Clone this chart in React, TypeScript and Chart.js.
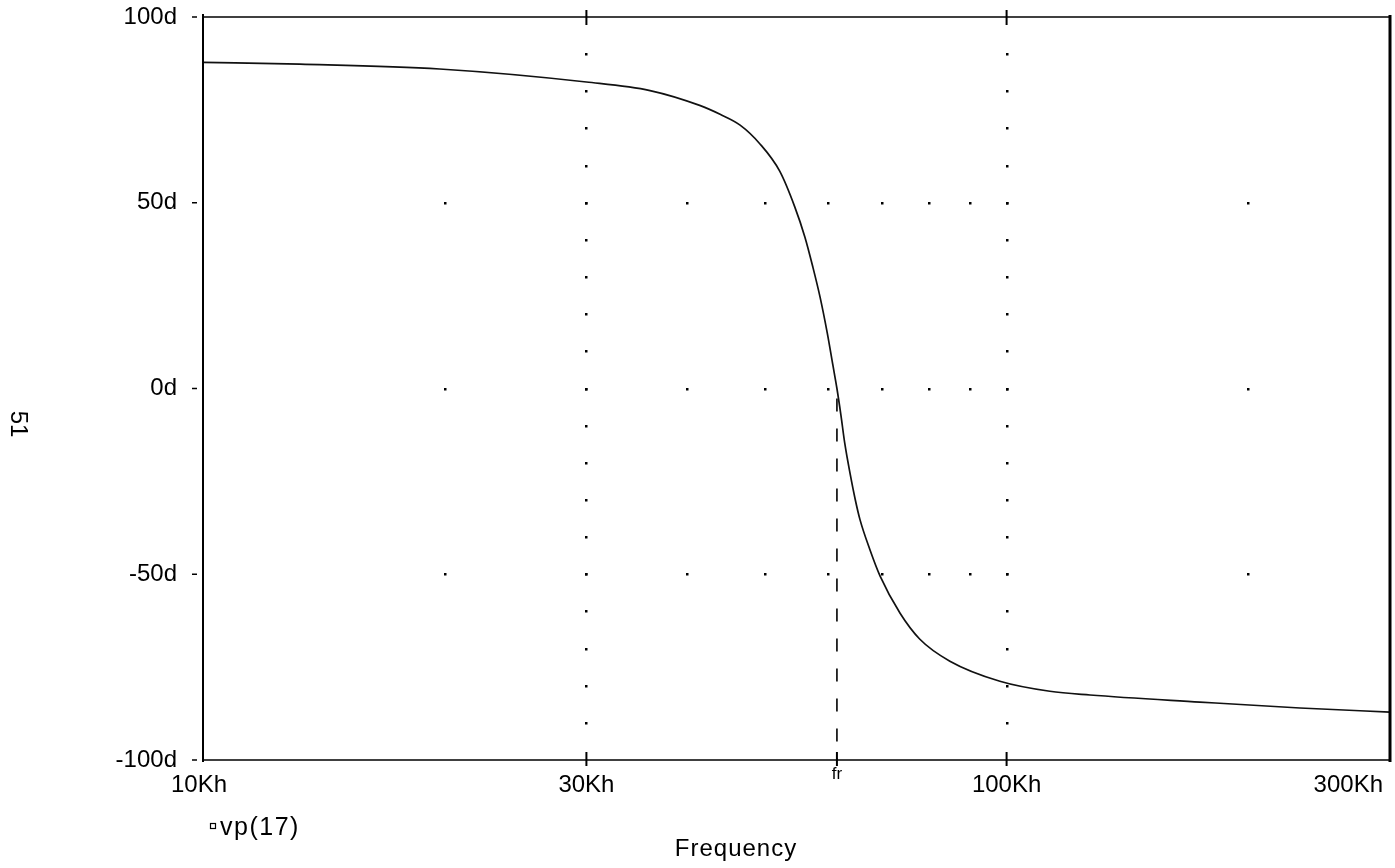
import React, { useEffect, useRef } from "react";
import { Chart, registerables } from "chart.js";

Chart.register(...registerables);

// ---- data ----
const freqKHz = [10, 13.2, 19.7, 30.0, 36.0, 41.5, 44.0, 46.6, 49.3, 52.2, 54.5, 56.1, 57.4, 58.6, 59.8, 60.8, 61.5, 62.2, 62.9, 63.9, 64.8, 65.7, 67.6, 69.6, 73.7, 78.0, 85.0, 98.1, 113.2, 127.0, 174.0, 231.8, 300];
const phaseDeg = [87.8, 87.3, 86.0, 82.5, 80.2, 76.2, 73.8, 70.9, 65.9, 58.5, 48.9, 40.8, 32.7, 24.6, 15.1, 6.2, 0, -7.1, -14.8, -23.2, -29.8, -35.3, -43.4, -50.5, -60.5, -67.5, -73.4, -78.8, -81.5, -82.5, -84.4, -86.0, -87.1];
const seriesName = "vp(17)";
const frKHz = 61.5;

// ---- axes / ticks ----
const xTickValuesK = [10, 30, 100, 300];
const xTickLabels = ["10Kh", "30Kh", "100Kh", "300Kh"];
const frLabel = "fr";
const yTickValues = [100, 50, 0, -50, -100];
const xTitle = "Frequency";
const pageNumber = "51";

// grid dots
const majorGridK = [30, 100];
const minorGridK = [20, 40, 50, 60, 70, 80, 90, 200];
const gridLevels = [50, 0, -50];
const verticalDotLevels = [90, 80, 70, 60, 50, 40, 30, 20, 10, 0, -10, -20, -30, -40, -50, -60, -70, -80, -90];

const FONT = '"Liberation Sans", Arial, Helvetica, sans-serif';

const decor = {
  id: "decor",
  beforeDatasetsDraw(chart: any) {
    const { ctx, chartArea: a, scales } = chart;
    const x = scales.x;
    const y = scales.y;
    ctx.save();
    ctx.fillStyle = "#000";
    const dot = (px: number, py: number) => ctx.fillRect(Math.round(px) - 1, Math.round(py) - 1, 2.5, 2.5);
    for (const v of majorGridK) {
      for (const d of verticalDotLevels) dot(x.getPixelForValue(v * 1000), y.getPixelForValue(d));
    }
    for (const lvl of gridLevels) {
      for (const v of [...minorGridK, ...majorGridK]) dot(x.getPixelForValue(v * 1000), y.getPixelForValue(lvl));
    }
    // fr dashed marker
    const fx = x.getPixelForValue(frKHz * 1000);
    ctx.strokeStyle = "#000";
    ctx.lineWidth = 1.6;
    ctx.setLineDash([13, 17]);
    ctx.beginPath();
    ctx.moveTo(fx, y.getPixelForValue(0) + 10);
    ctx.lineTo(fx, a.bottom);
    ctx.stroke();
    ctx.setLineDash([]);
    ctx.restore();
  },
  afterDraw(chart: any) {
    const { ctx, chartArea: a, scales } = chart;
    const x = scales.x;
    const y = scales.y;
    ctx.save();
    ctx.strokeStyle = "#000";
    ctx.fillStyle = "#000";
    // frame
    ctx.lineWidth = 2;
    ctx.beginPath(); ctx.moveTo(a.left, a.top - 3); ctx.lineTo(a.left, a.bottom + 2); ctx.stroke();
    ctx.lineWidth = 1.5;
    ctx.beginPath(); ctx.moveTo(a.left, a.top); ctx.lineTo(a.right, a.top); ctx.stroke();
    ctx.beginPath(); ctx.moveTo(a.left, a.bottom); ctx.lineTo(a.right, a.bottom); ctx.stroke();
    ctx.lineWidth = 3;
    ctx.beginPath(); ctx.moveTo(a.right, a.top - 2); ctx.lineTo(a.right, a.bottom + 2); ctx.stroke();
    // tick marks
    ctx.lineWidth = 2;
    for (const v of majorGridK) {
      const px = x.getPixelForValue(v * 1000);
      ctx.beginPath(); ctx.moveTo(px, a.top - 7); ctx.lineTo(px, a.top + 8); ctx.stroke();
    }
    for (const v of [30, frKHz, 100]) {
      const px = x.getPixelForValue(v * 1000);
      ctx.beginPath(); ctx.moveTo(px, a.bottom - 8); ctx.lineTo(px, a.bottom + 6); ctx.stroke();
    }
    ctx.lineWidth = 1.5;
    for (const d of yTickValues) {
      const py = y.getPixelForValue(d);
      ctx.beginPath(); ctx.moveTo(a.left - 11, py); ctx.lineTo(a.left - 6, py); ctx.stroke();
    }
    // x labels
    ctx.font = `24px ${FONT}`;
    ctx.textBaseline = "middle";
    xTickValuesK.forEach((v, i) => {
      const px = x.getPixelForValue(v * 1000);
      if (i === xTickValuesK.length - 1) {
        ctx.textAlign = "right";
        ctx.fillText(xTickLabels[i], px - 7, a.bottom + 25);
      } else {
        ctx.textAlign = "center";
        ctx.fillText(xTickLabels[i], px - (i === 0 ? 4 : 0), a.bottom + 25);
      }
    });
    ctx.font = `17px ${FONT}`;
    ctx.textAlign = "center";
    ctx.fillText(frLabel, x.getPixelForValue(frKHz * 1000), a.bottom + 14);
    // legend
    ctx.lineWidth = 1.2;
    ctx.strokeRect(210.5, 823.5, 5, 5);
    ctx.font = `25px ${FONT}`;
    (ctx as any).letterSpacing = "1.5px";
    ctx.textAlign = "left";
    ctx.fillText(seriesName, 220, 828);
    // axis title
    ctx.font = `24px ${FONT}`;
    (ctx as any).letterSpacing = "1px";
    ctx.textAlign = "center";
    ctx.fillText(xTitle, 736, 849);
    (ctx as any).letterSpacing = "0px";
    // page number (rotated)
    ctx.font = `24px ${FONT}`;
    ctx.translate(18, 424);
    ctx.rotate(Math.PI / 2);
    ctx.fillText(pageNumber, 0, 0);
    ctx.restore();
  },
};

export default function App() {
  const ref = useRef<HTMLCanvasElement>(null);
  useEffect(() => {
    const chart = new Chart(ref.current as HTMLCanvasElement, {
      type: "line",
      data: {
        datasets: [
          {
            label: seriesName,
            data: freqKHz.map((f, i) => ({ x: f * 1000, y: phaseDeg[i] })),
            borderColor: "#111",
            borderWidth: 1.7,
            pointRadius: 0,
            cubicInterpolationMode: "monotone",
            fill: false,
          },
        ],
      },
      options: {
        responsive: false,
        animation: false,
        devicePixelRatio: 1,
        layout: { padding: { top: 17, right: 5, left: 0, bottom: 0 } },
        plugins: { legend: { display: false }, tooltip: { enabled: false } },
        scales: {
          x: {
            type: "logarithmic",
            min: 10000,
            max: 300000,
            position: "bottom",
            grid: { display: false, drawTicks: false },
            border: { display: false },
            ticks: { display: false },
            afterFit: (s: any) => {
              s.height = 108;
              s.paddingLeft = 0;
              s.paddingRight = 0;
            },
          },
          y: {
            type: "linear",
            min: -100,
            max: 100,
            grid: { display: false, drawTicks: false },
            border: { display: false },
            ticks: {
              stepSize: 50,
              padding: 26,
              color: "#000",
              font: { family: FONT, size: 24 },
              callback: (v: any) => `${v}d`,
            },
            afterFit: (s: any) => {
              s.width = 203;
              s.paddingTop = 0;
              s.paddingBottom = 0;
            },
          },
        },
      } as any,
      plugins: [decor],
    });
    return () => chart.destroy();
  }, []);
  return (
    <div style={{ position: "fixed", left: 0, top: 0, width: 1395, height: 868, background: "#fff" }}>
      <canvas ref={ref} width={1395} height={868} style={{ display: "block" }} />
    </div>
  );
}
